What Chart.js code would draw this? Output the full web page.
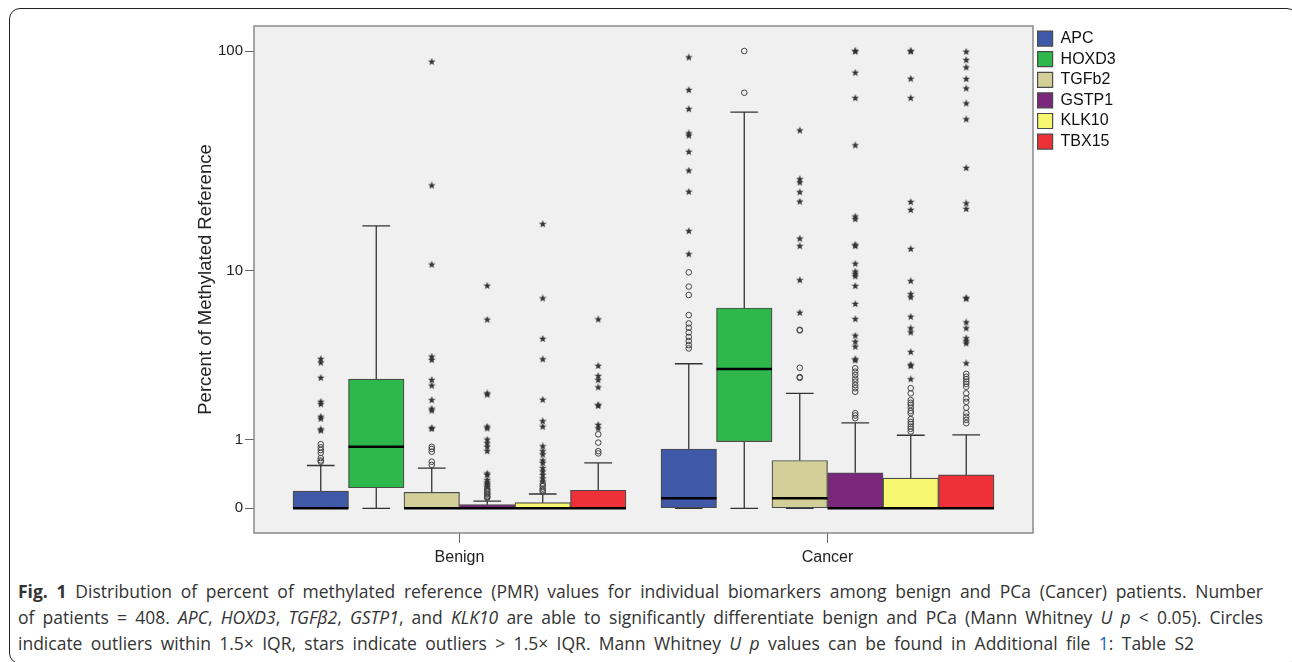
<!DOCTYPE html>
<html>
<head>
<meta charset="utf-8">
<script src="https://cdn.jsdelivr.net/npm/chart.js@4.4.1/dist/chart.umd.min.js"></script>
<style>
  html, body { margin: 0; padding: 0; background: #fff; }
  body { width: 1292px; height: 662px; position: relative; overflow: hidden; }
  #frame { position: absolute; left: 9px; top: 8px; width: 1289px; height: 656px;
           border: 1.5px solid #222; border-radius: 11px; box-sizing: border-box; }
  #wrap { position: absolute; left: 0; top: 0; width: 1292px; height: 575px; }
  #caption { position: absolute; left: 18px; top: 578px; white-space: nowrap;
             font-family: "Open Sans", sans-serif; font-size: 17.5px; line-height: 26px; color: #333; }
  #caption div { text-align: justify; text-align-last: justify; }
  #caption a { color: #1a5fc0; text-decoration: none; }
</style>
</head>
<body>
<div id="frame"></div>
<div id="wrap"><canvas id="boxChart"></canvas></div>
<div id="caption">
  <div style="width:1245px"><b>Fig. 1</b> Distribution of percent of methylated reference (PMR) values for individual biomarkers among benign and PCa (Cancer) patients. Number</div>
  <div style="width:1245px">of patients = 408. <i>APC</i>, <i>HOXD3</i>, <i>TGFβ2</i>, <i>GSTP1</i>, and <i>KLK10</i> are able to significantly differentiate benign and PCa (Mann Whitney <i>U p</i> &lt; 0.05). Circles</div>
  <div style="width:1176px">indicate outliers within 1.5× IQR, stars indicate outliers &gt; 1.5× IQR. Mann Whitney <i>U p</i> values can be found in Additional file <a>1</a>: Table S2</div>
</div>
<script>
// groups on the x axis, genes inside each group
const groups = ['Benign', 'Cancer'];
const genes = ['APC', 'HOXD3', 'TGFb2', 'GSTP1', 'KLK10', 'TBX15'];
const geneColors = ['#3f58a8', '#2eb84b', '#d3cf98', '#7b287c', '#f8f772', '#ee3138'];

const yTickValues = [0, 1, 10, 100];
const yTickLabels = ['0', '1', '10', '100'];

// box statistics (PMR), one value per gene
const benignLow    = [0, 0, 0, 0, 0, 0];
const benignQ1     = [0, 0.23, 0, 0, 0, 0];
const benignMedian = [0, 0.86, 0, 0, 0, 0];
const benignQ3     = [0.19, 2.68, 0.175, 0.037, 0.058, 0.20];
const benignHigh   = [0.54, 16.3, 0.50, 0.076, 0.155, 0.58];

const cancerLow    = [0, 0, 0, 0, 0, 0];
const cancerQ1     = [0, 0.958, 0, 0, 0, 0];
const cancerMedian = [0.106, 3.08, 0.106, 0, 0, 0];
const cancerQ3     = [0.82, 6.55, 0.62, 0.432, 0.357, 0.40];
const cancerHigh   = [3.30, 53.5, 2.19, 1.37, 1.09, 1.10];

// outliers: circles = within 1.5x IQR, stars = beyond
const benignCircles = [
  [0.60, 0.62, 0.66, 0.75, 0.80, 0.85, 0.91],
  [],
  [0.55, 0.60, 0.77, 0.82, 0.86],
  [0.11, 0.12, 0.13, 0.15, 0.16, 0.18, 0.20, 0.22],
  [0.18, 0.20, 0.22, 0.25, 0.28],
  [0.74, 0.78, 0.94, 1.11]
];
const benignStars = [
  [1.19, 1.22, 1.47, 1.52, 1.86, 1.93, 2.73, 3.35, 3.51],
  [],
  [1.23, 1.25, 1.68, 1.73, 1.98, 2.45, 2.65, 3.47, 3.62, 10.7, 25.0, 89.6],
  [0.24, 0.26, 0.28, 0.30, 0.33, 0.40, 0.42, 0.78, 0.86, 0.93, 1.0, 1.24, 1.28, 2.15, 2.19, 5.71, 8.45],
  [0.31, 0.35, 0.40, 0.45, 0.50, 0.58, 0.62, 0.72, 0.78, 0.87, 1.28, 1.41, 1.99, 3.50, 4.53, 7.32, 16.6],
  [1.24, 1.32, 1.81, 1.84, 2.39, 2.65, 2.80, 3.21, 5.73]
];
const cancerCircles = [
  [4.02, 4.19, 4.41, 4.64, 4.90, 5.18, 5.46, 6.03, 7.61, 8.37, 9.82],
  [65.3, 100],
  [2.73, 2.76, 3.13, 5.02, 5.06],
  [1.48, 1.55, 1.61, 2.24, 2.36, 2.47, 2.59, 2.70, 2.84, 2.97, 3.11],
  [1.17, 1.23, 1.28, 1.34, 1.39, 1.46, 1.61, 1.67, 1.76, 1.84, 1.90, 1.98, 2.19, 2.36],
  [1.36, 1.44, 1.52, 1.61, 1.76, 1.93, 2.03, 2.19, 2.41, 2.51, 2.59, 2.68, 2.77, 2.88]
];
const cancerStars = [
  [12.0, 15.4, 23.4, 29.2, 35.5, 42.0, 43.0, 55.2, 67.1, 93.7],
  [],
  [6.2, 9.0, 13.1, 14.2, 21.1, 23.3, 25.8, 26.7, 44.3],
  [3.45, 3.50, 4.11, 4.37, 4.71, 5.75, 6.86, 8.42, 9.4, 9.65, 9.9, 10.8, 13.1, 13.3, 17.5, 18.0, 38.0, 61.8, 80.1, 99.5, 100],
  [2.68, 3.20, 3.26, 3.84, 4.90, 5.15, 5.91, 7.41, 7.69, 8.91, 12.7, 19.3, 21.0, 61.8, 75.3, 99.5, 100],
  [3.32, 4.28, 4.40, 4.56, 5.15, 5.53, 7.28, 7.36, 19.5, 20.7, 30.0, 49.7, 58.5, 68.2, 75.1, 84.6, 91.2, 99.2]
];

const groupStats = [
  { low: benignLow, q1: benignQ1, med: benignMedian, q3: benignQ3, high: benignHigh, circles: benignCircles, stars: benignStars },
  { low: cancerLow, q1: cancerQ1, med: cancerMedian, q3: cancerQ3, high: cancerHigh, circles: cancerCircles, stars: cancerStars }
];

// axis is log10(PMR + 1)
const t = v => Math.log10(v + 1);
const boxStep = 0.1508;           // width of one box in x units (group spacing = 1)
const cx = (g, i) => g + (i - (genes.length - 1) / 2) * boxStep;

Chart.defaults.font.family = "'Liberation Sans', Arial, sans-serif";
Chart.defaults.color = '#222';

function makeStar(size, color) {
  const c = document.createElement('canvas');
  c.width = c.height = size;
  const g = c.getContext('2d');
  g.fillStyle = color;
  g.beginPath();
  for (let k = 0; k < 10; k++) {
    const r = k % 2 ? size * 0.21 : size * 0.5;
    const a = -Math.PI / 2 + k * Math.PI / 5;
    g.lineTo(size / 2 + r * Math.cos(a), size / 2 + r * Math.sin(a));
  }
  g.closePath();
  g.fill();
  return c;
}

const boxDatasets = genes.map((name, i) => ({
  type: 'bar',
  label: name,
  data: groupStats.map((s, g) => ({ x: cx(g, i), y: [t(s.q1[i]), t(s.q3[i])] })),
  backgroundColor: geneColors[i],
  borderColor: '#4a4a4a',
  borderWidth: 1.2,
  borderSkipped: false,
  grouped: false,
  categoryPercentage: 1,
  barPercentage: 1,
  order: 3
}));

const whiskerPts = [];
const medianPts = [];
const circlePts = [];
const starPts = [];
groupStats.forEach((s, g) => {
  genes.forEach((name, i) => {
    const x = cx(g, i);
    const cap = boxStep / 4;
    whiskerPts.push(
      { x: x, y: t(s.q3[i]) }, { x: x, y: t(s.high[i]) }, { x: x, y: null },
      { x: x - cap, y: t(s.high[i]) }, { x: x + cap, y: t(s.high[i]) }, { x: x, y: null },
      { x: x, y: t(s.q1[i]) }, { x: x, y: t(s.low[i]) }, { x: x, y: null },
      { x: x - cap, y: t(s.low[i]) }, { x: x + cap, y: t(s.low[i]) }, { x: x, y: null }
    );
    medianPts.push(
      { x: x - boxStep / 2, y: t(s.med[i]) }, { x: x + boxStep / 2, y: t(s.med[i]) }, { x: x, y: null }
    );
    s.circles[i].forEach(v => circlePts.push({ x: x, y: t(v) }));
    s.stars[i].forEach(v => starPts.push({ x: x, y: t(v) }));
  });
});

const frame = {
  id: 'frame',
  beforeDatasetsDraw(chart) {
    const { ctx, chartArea: a } = chart;
    ctx.save();
    ctx.fillStyle = '#f0f0f0';
    ctx.fillRect(a.left, a.top, a.width, a.height);
    ctx.restore();
  },
  afterDatasetsDraw(chart) {
    const { ctx, chartArea: a } = chart;
    ctx.save();
    ctx.strokeStyle = '#8a8a8a';
    ctx.lineWidth = 1.5;
    ctx.strokeRect(a.left, a.top, a.width, a.height);
    ctx.restore();
  }
};

new Chart(document.getElementById('boxChart'), {
  type: 'bar',
  data: {
    datasets: [
      ...boxDatasets,
      { type: 'line', label: 'whiskers', data: whiskerPts, borderColor: '#333', borderWidth: 1.3,
        pointRadius: 0, spanGaps: false, fill: false, order: 4 },
      { type: 'line', label: 'medians', data: medianPts, borderColor: '#000', borderWidth: 2.5,
        pointRadius: 0, spanGaps: false, fill: false, order: 2 },
      { type: 'scatter', label: 'circles', data: circlePts, pointStyle: 'circle', pointRadius: 2.8,
        borderColor: '#444', borderWidth: 1, backgroundColor: 'rgba(0,0,0,0)', order: 1 },
      { type: 'scatter', label: 'stars', data: starPts, pointStyle: makeStar(8, '#333'), order: 1 }
    ]
  },
  options: {
    responsive: true,
    maintainAspectRatio: false,
    animation: false,
    layout: { padding: { left: 191, top: 26, right: 171, bottom: 5 } },
    plugins: {
      legend: {
        position: 'right',
        align: 'start',
        maxWidth: 88,
        labels: {
          boxWidth: 15, boxHeight: 15, padding: 4.6,
          font: { size: 16 }, color: '#111',
          filter: item => item.datasetIndex < genes.length
        }
      },
      tooltip: { enabled: false }
    },
    scales: {
      x: {
        type: 'linear',
        min: -0.5584, max: 1.5584,
        offset: false,
        afterBuildTicks: scale => { scale.ticks = groups.map((g, i) => ({ value: i })); },
        afterFit: scale => { scale.height = 37; },
        ticks: { callback: (v, i) => groups[i], font: { size: 16 }, color: '#222', padding: 5,
                 autoSkip: false, maxRotation: 0 },
        grid: { drawOnChartArea: false, offset: false, tickLength: 10, color: '#666' },
        border: { display: false }
      },
      y: {
        type: 'linear',
        min: -0.1083, max: 2.1139,
        afterBuildTicks: scale => { scale.ticks = yTickValues.map(v => ({ value: t(v) })); },
        afterFit: scale => { scale.width = 63; },
        ticks: { callback: (v, i) => yTickLabels[i], font: { size: 15 }, color: '#222', padding: 2,
                 autoSkip: false },
        grid: { drawOnChartArea: false, tickLength: 9, color: '#666' },
        border: { display: false },
        title: { display: true, text: 'Percent of Methylated Reference', font: { size: 18.5 },
                 color: '#222', padding: { top: 4, bottom: 4 } }
      }
    }
  },
  plugins: [frame]
});
</script>
</body>
</html>
